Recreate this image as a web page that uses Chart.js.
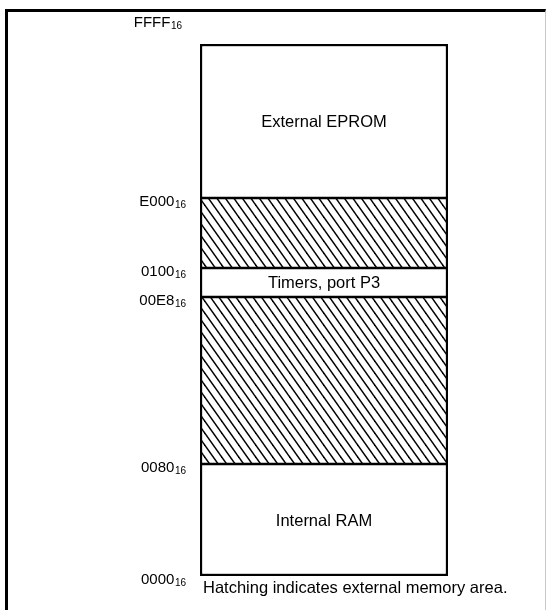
<!DOCTYPE html>
<html>
<head>
<meta charset="utf-8">
<script src="https://cdn.jsdelivr.net/npm/chart.js@4"></script>
<style>
  html, body { margin: 0; padding: 0; background: #fff; overflow: hidden; }
  #wrap { position: relative; width: 546px; height: 610px; }
  #frame { position: absolute; left: 5px; top: 9px; width: 537px; height: 640px;
           border-top: 3px solid #000; border-left: 3px solid #000; border-right: 1px solid #c8c8c8; }
  canvas { position: absolute; left: 0; top: 0; }
</style>
</head>
<body>
<div id="wrap">
  <div id="frame"></div>
  <canvas id="c" width="546" height="610"></canvas>
</div>
<script>
// Memory map (diagram is not to scale): boundary positions in diagram height units
const addressLabels     = ['0000', '0080', '00E8', '0100', 'E000', 'FFFF'];
const addressBase       = '16';
const boundaryPositions = [0, 112, 279, 308, 378, 532];
const regionNames       = ['Internal RAM', '', 'Timers, port P3', '', 'External EPROM'];
const regionExternal    = [false, true, false, true, false];
const footnote          = 'Hatching indicates external memory area.';

function makeHatch() {
  const W = 8.5, H = 12;
  const c = document.createElement('canvas');
  c.width = 17; c.height = 24;
  const g = c.getContext('2d');
  g.fillStyle = '#fff';
  g.fillRect(0, 0, c.width, c.height);
  g.strokeStyle = '#000';
  g.lineWidth = 1.5;
  for (let k = -3; k <= 3; k++) {
    g.beginPath();
    g.moveTo(k * W - 2 * W, -2 * H);
    g.lineTo(k * W + 4 * W, 4 * H);
    g.stroke();
  }
  return g.createPattern(c, 'repeat');
}

const ctx = document.getElementById('c').getContext('2d');
const hatch = makeHatch();
const last = regionNames.length - 1;

const datasets = regionNames.map((name, i) => ({
  label: name,
  data: [[boundaryPositions[i], boundaryPositions[i + 1]]],
  backgroundColor: regionExternal[i] ? hatch : '#ffffff',
  borderColor: '#000',
  borderWidth: { top: i === last ? 2.5 : 1.6, bottom: i === 0 ? 2.5 : 1.6, left: 2.5, right: 2.5 },
  borderSkipped: false,
  grouped: false,
  categoryPercentage: 1,
  barPercentage: 1
}));

const FONT = '"Liberation Sans", Arial, Helvetica, sans-serif';

const labelPlugin = {
  id: 'memLabels',
  afterDraw(chart) {
    const g = chart.ctx;
    const ys = chart.scales.y;
    const area = chart.chartArea;
    g.save();
    g.fillStyle = '#000';
    // address labels with subscript base
    const rightX = area.left - 14;
    addressLabels.forEach((lab, i) => {
      let y = ys.getPixelForValue(boundaryPositions[i]);
      let x = rightX;
      if (i === addressLabels.length - 1) { y -= 23; x -= 4; } else y += 2;
      g.font = '10px ' + FONT;
      const sw = g.measureText(addressBase).width;
      g.textBaseline = 'alphabetic';
      g.textAlign = 'left';
      g.fillText(addressBase, x - sw, y + 8);
      g.font = '15px ' + FONT;
      g.textAlign = 'right';
      g.fillText(lab, x - sw - 0.5, y + 5.5);
    });
    // region names
    g.font = '16.5px ' + FONT;
    g.textAlign = 'center';
    g.textBaseline = 'middle';
    chart.data.datasets.forEach((ds, i) => {
      const el = chart.getDatasetMeta(i).data[0];
      if (!ds.label) return;
      g.fillText(ds.label, el.x, (el.y + el.base) / 2 + 1);
    });
    // footnote
    g.textAlign = 'left';
    g.fillText(footnote, area.left + 3, area.bottom + 12);
    g.restore();
  }
};

new Chart(ctx, {
  type: 'bar',
  data: { labels: ['Memory'], datasets },
  options: {
    responsive: false,
    animation: false,
    devicePixelRatio: 1,
    layout: { padding: { left: 200, right: 98, top: 44, bottom: 34 } },
    plugins: { legend: { display: false }, tooltip: { enabled: false }, title: { display: false } },
    scales: {
      x: { display: false, offset: true },
      y: { display: false, min: 0, max: 532 }
    }
  },
  plugins: [labelPlugin]
});
</script>
</body>
</html>
